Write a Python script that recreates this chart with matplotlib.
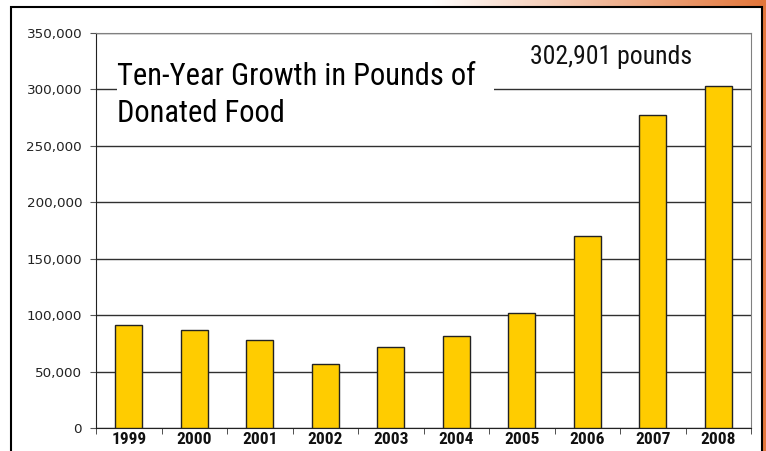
import numpy as np
import matplotlib.pyplot as plt
from matplotlib.patches import Rectangle
from matplotlib.ticker import FuncFormatter

# datos
years = ['1999', '2000', '2001', '2002', '2003', '2004', '2005', '2006', '2007', '2008']
pounds = [91000, 86800, 78000, 56700, 71800, 81500, 101600, 170100, 277700, 302901]
y_ticks = [0, 50000, 100000, 150000, 200000, 250000, 300000, 350000]
title_text = 'Ten-Year Growth in Pounds of\nDonated Food'
note_text = '302,901 pounds'

# fuente estrecha (lo mas parecido a Helvetica Condensed)
narrow = ['Roboto Condensed', 'Roboto', 'DejaVu Sans']

W, H = 766, 451
fig = plt.figure(figsize=(W / 100, H / 100), dpi=100)

# fondo con degradado naranja (borde superior y derecho)
bg = fig.add_axes([0, 0, 1, 1], zorder=-10)
bg.set_axis_off()
xs = np.linspace(0, 1, W)
t = np.clip((xs * W - 430) / 330, 0, 1)
orange = np.array([0.89, 0.47, 0.24])
row = (1 - t)[:, None] * np.ones(3) + t[:, None] * orange
bg.imshow(np.tile(row[None, :, :], (H, 1, 1)), aspect='auto', extent=[0, 1, 0, 1])
bg.add_patch(Rectangle((11 / W, -0.05), (762 - 11) / W, (H - 7) / H + 0.05,
                       transform=bg.transAxes, facecolor='white',
                       edgecolor='black', lw=1.5))
bg.set_xlim(0, 1)
bg.set_ylim(0, 1)

ax = fig.add_axes([96 / W, (H - 428) / H, 655 / W, 395 / H])
x = np.arange(len(years))
ax.bar(x, pounds, width=0.41, color='#FFCC00', edgecolor='#222222', lw=1, zorder=3)

ax.set_xlim(-0.5, len(years) - 0.5)
ax.set_ylim(0, 350000)
ax.set_yticks(y_ticks)
ax.yaxis.set_major_formatter(FuncFormatter(lambda v, p: f'{int(v):,}'))
ax.grid(axis='y', color='#303030', lw=1, zorder=0)
ax.set_axisbelow(True)

ax.set_xticks(x)
ax.set_xticklabels(years, fontfamily=narrow, fontweight='bold', fontsize=12.5,
                   color='#111111')
ax.set_xticks(np.arange(-0.5, len(years)), minor=True)
ax.tick_params(axis='x', which='major', length=0, pad=3)
ax.tick_params(axis='x', which='minor', length=4, direction='out', color='#333333')
ax.tick_params(axis='y', length=4, direction='out', color='#555555',
               labelsize=9.7, labelcolor='#222222', pad=6)

for s in ['top', 'right']:
    ax.spines[s].set_color('#808080')
for s in ['left', 'bottom']:
    ax.spines[s].set_color('#222222')

# caja blanca del titulo
ax.add_patch(Rectangle(((117 - 96) / 655, (428 - 135) / 395), (494 - 117) / 655,
                       (135 - 42) / 395, transform=ax.transAxes,
                       facecolor='white', edgecolor='none', zorder=1))
ax.text((117 - 96) / 655, (428 - 62) / 395, title_text, transform=ax.transAxes,
        fontfamily=narrow, fontsize=22, va='top', ha='left',
        linespacing=1.33, color='#000000', zorder=4)
ax.text((611 - 96) / 655, (428 - 57) / 395, note_text, transform=ax.transAxes,
        fontfamily=narrow, fontsize=18.5, va='center', ha='center',
        color='#111111', zorder=4)

fig.savefig('out.png', dpi=100)
